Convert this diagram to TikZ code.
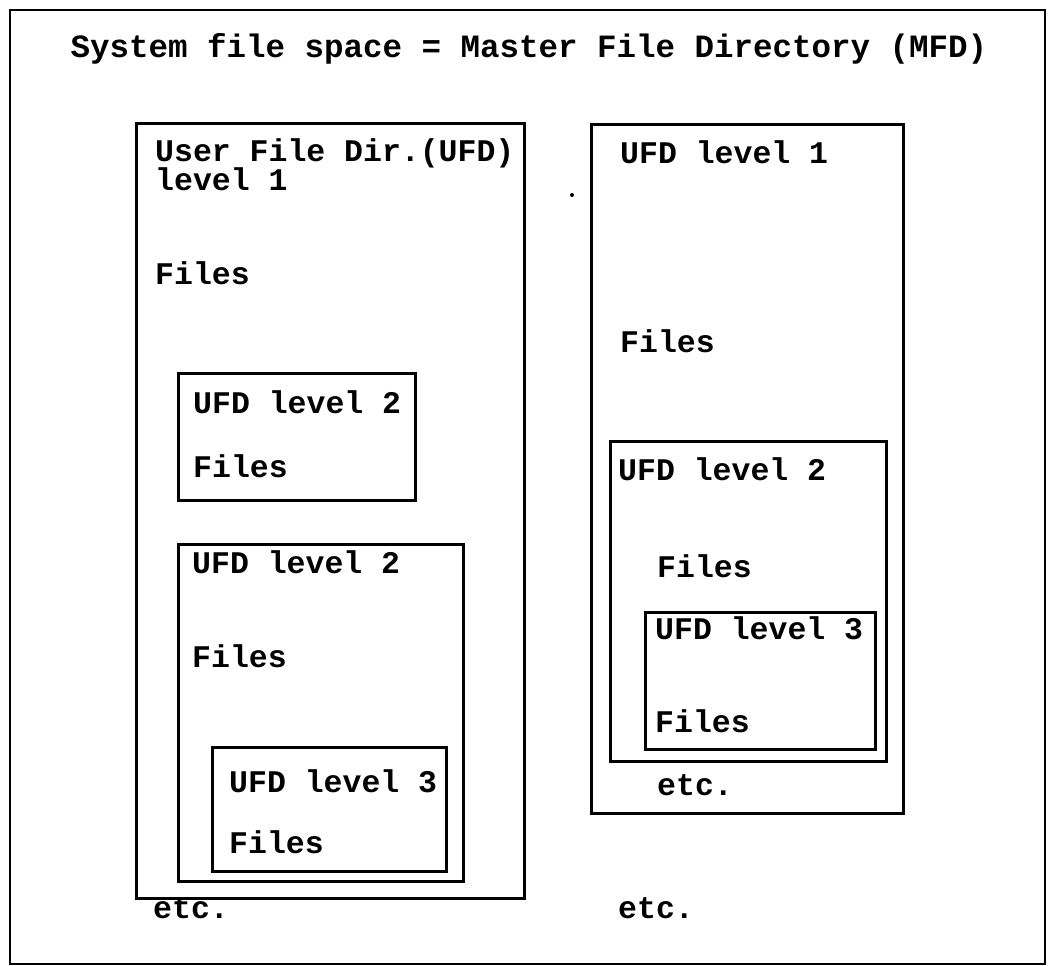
\documentclass[tikz,border=0pt]{standalone}
\usepackage{fontspec}
\setmonofont{Liberation Mono}
\begin{document}
\begin{tikzpicture}[x=1pt,y=-1pt,
  box/.style={draw=black, line width=2.6pt, rectangle, inner sep=0pt, anchor=north west},
  outerbox/.style={draw=black, line width=2pt, rectangle, inner sep=0pt, anchor=north west},
  lbl/.style={anchor=base west, inner sep=0pt, font=\fontsize{31.5}{34}\ttfamily\bfseries},
  ttl/.style={anchor=base, inner sep=0pt, font=\fontsize{32.5}{35}\ttfamily\bfseries}]
\useasboundingbox (0,0) rectangle (1050,966);
% outer frame
\node[outerbox, minimum width=1035, minimum height=954] (MFD) at (9,9) {};
\node[ttl] (title) at (529,58) {System file space = Master File Directory (MFD)};
% left column
\node[box, minimum width=388, minimum height=775] (L1) at (135,122) {};
\node[lbl] (L1a) at (155,161) {User File Dir.(UFD)};
\node[lbl] (L1b) at (155,190) {level 1};
\node[lbl] (L1f) at (155,284) {Files};
\node[box, minimum width=237, minimum height=127] (L2a) at (177,372) {};
\node[lbl] (L2at) at (193,413) {UFD level 2};
\node[lbl] (L2af) at (193,477) {Files};
\node[box, minimum width=285, minimum height=337] (L2b) at (177,543) {};
\node[lbl] (L2bt) at (192,573) {UFD level 2};
\node[lbl] (L2bf) at (192,667) {Files};
\node[box, minimum width=234, minimum height=124] (L3) at (211,746) {};
\node[lbl] (L3t) at (229,792) {UFD level 3};
\node[lbl] (L3f) at (229,853) {Files};
\node[lbl] (Letc) at (153,918) {etc.};
% right column
\node[box, minimum width=312, minimum height=689] (R1) at (590,123) {};
\node[lbl] (R1t) at (620,163) {UFD level 1};
\node[lbl] (R1f) at (620,352) {Files};
\node[box, minimum width=276, minimum height=320] (R2) at (609,440) {};
\node[lbl] (R2t) at (618,480) {UFD level 2};
\node[lbl] (R2f) at (657,577) {Files};
\node[box, minimum width=230, minimum height=137] (R3) at (644,611) {};
\node[lbl] (R3t) at (655,639) {UFD level 3};
\node[lbl] (R3f) at (655,732) {Files};
\node[lbl] (R1etc) at (657,795) {etc.};
\node[lbl] (Retc) at (618,918) {etc.};
% stray mark
\fill (572,195) circle (2);
\end{tikzpicture}
\end{document}
